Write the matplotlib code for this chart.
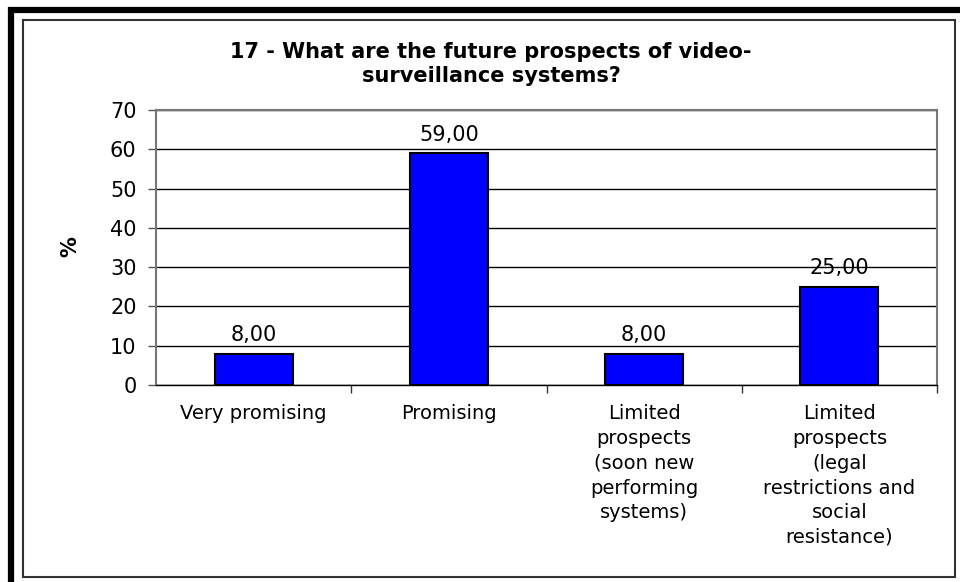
import matplotlib
matplotlib.use("Agg")
import matplotlib.pyplot as plt
from matplotlib.lines import Line2D
from matplotlib.patches import Rectangle

categories = ["Very promising", "Promising",
              "Limited\nprospects\n(soon new\nperforming\nsystems)",
              "Limited\nprospects\n(legal\nrestrictions and\nsocial\nresistance)"]
values = [8, 59, 8, 25]
value_labels = ["8,00", "59,00", "8,00", "25,00"]
yticks = [0, 10, 20, 30, 40, 50, 60, 70]

plt.rcParams['font.family'] = ['DejaVu Sans']

W, H = 960, 582
fig = plt.figure(figsize=(9.6, 5.82), dpi=100)

# frame: thick black top/left, thin grey inner box
fig.add_artist(Line2D([8 / W, 1], [1 - 10 / H, 1 - 10 / H], color="black", lw=4.5,
                      transform=fig.transFigure, solid_capstyle="butt"))
fig.add_artist(Line2D([11 / W, 11 / W], [0, 1 - 7 / H], color="black", lw=4.5,
                      transform=fig.transFigure, solid_capstyle="butt"))
fig.add_artist(Rectangle((23 / W, 1 - 577 / H), (955 - 23) / W, (577 - 20) / H,
                         transform=fig.transFigure, fill=False, ec="#333333", lw=1.5))

ax = fig.add_axes([156 / W, 1 - 385 / H, (937 - 156) / W, (385 - 110) / H])
x = range(len(values))
ax.bar(x, values, width=0.4, color="#0000FF", edgecolor="black", lw=1.5, zorder=3)
for xi, v, lab in zip(x, values, value_labels):
    ax.annotate(lab, (xi, v), xytext=(0, 6), textcoords="offset points",
                ha="center", va="bottom", fontsize=15, zorder=4)

ax.set_xlim(-0.5, len(values) - 0.5)
ax.set_ylim(0, 70)
ax.set_yticks(yticks)
ax.set_yticklabels([str(t) for t in yticks], fontsize=15)
ax.tick_params(axis="y", direction="out", length=6, width=1, color="#555555", pad=8)
ax.set_xticks(list(x))
ax.set_xticklabels(categories, fontsize=14, linespacing=1.38, va="top")
ax.tick_params(axis="x", length=0, pad=14)
ax.set_xticks([0.5, 1.5, 2.5, 3.5], minor=True)
ax.tick_params(axis="x", which="minor", direction="out", length=6, width=1, color="#333333")
ax.yaxis.grid(True, color="black", lw=1, zorder=0)
ax.set_axisbelow(True)
for s in ["top", "right", "left"]:
    ax.spines[s].set_color("#777777")
    ax.spines[s].set_linewidth(1.5)
ax.spines["bottom"].set_color("black")
ax.spines["bottom"].set_linewidth(1)

fig.text(70 / W, 1 - 247 / H, "%", rotation=90, ha="center", va="center",
         fontsize=15, fontweight="bold")
fig.text(491 / W, 1 - 64 / H, "17 - What are the future prospects of video-\nsurveillance systems?",
         ha="center", va="center", fontsize=15, fontweight="bold", linespacing=1.3)

fig.savefig("out.png", dpi=100)
